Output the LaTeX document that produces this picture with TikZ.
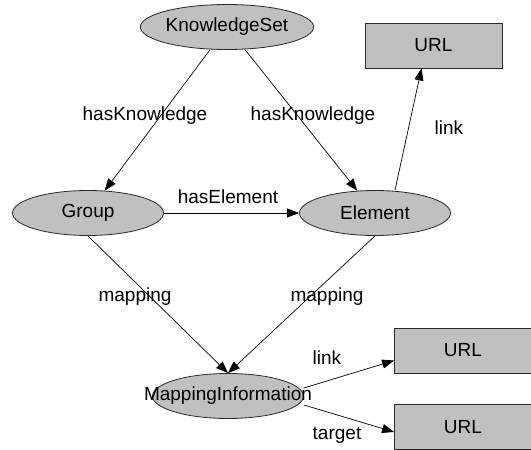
\documentclass[tikz,border=0pt]{standalone}
\usepackage{fontspec}
\setmainfont{Liberation Sans}
\usepackage{xcolor}
\usepackage{tikz}
\usetikzlibrary{arrows.meta,shapes.geometric}
\definecolor{kggray}{RGB}{192,192,192}
\definecolor{kgline}{RGB}{40,40,40}
\tikzset{
  kgclass/.style={ellipse, draw=kgline, fill=kggray, line width=0.8pt,
    minimum width=151pt, minimum height=45pt, inner sep=0pt,
    font=\fontsize{19}{22}\selectfont},
  kgurl/.style={rectangle, draw=kgline, fill=kggray, line width=0.8pt,
    minimum width=137pt, minimum height=45pt, inner sep=0pt,
    font=\fontsize{19}{22}\selectfont},
  kglabel/.style={inner sep=0pt, font=\fontsize{19}{22}\selectfont},
  kgarrow/.style={-{Triangle[length=12pt,width=9pt]}, line width=0.7pt, draw=black}
}
\begin{document}
\begin{tikzpicture}[x=1pt,y=-1pt]
  \useasboundingbox (0,0) rectangle (531,450);
  \clip (0,0) rectangle (531,450);
  \node[kgclass] (kSet) at (227,27) {KnowledgeSet};
  \node[kgclass] (kGroup) at (88,213) {Group};
  \node[kgclass] (kElem) at (375,213) {Element};
  \node[kgclass] (kMap) at (228,396) {\makebox[0pt]{MappingInformation}};
  \node[kgurl] (uElem) at (433.5,45.5) {URL};
  \node[kgurl] (uLink) at (463,350.5) {URL};
  \node[kgurl] (uTarget) at (463,427) {URL};
  \draw[kgarrow] (kSet) -- (kGroup);
  \draw[kgarrow] (kSet) -- (kElem);
  \draw[kgarrow] (kGroup) -- (kElem);
  \draw[kgarrow] ([xshift=20pt]kElem.north) -- ([xshift=-12pt]uElem.south);
  \draw[kgarrow] (kGroup.south) -- (kMap.north);
  \draw[kgarrow] (kElem.south) -- (kMap.north);
  \draw[kgarrow] ([yshift=8pt]kMap.east) -- ([yshift=-10pt]uLink.west);
  \draw[kgarrow] ([yshift=-9pt]kMap.east) -- ([yshift=-5pt]uTarget.west);
  \node[kglabel] (lKnowA) at (145,116) {hasKnowledge};
  \node[kglabel] (lKnowB) at (313,116) {hasKnowledge};
  \node[kglabel] (lHasElem) at (228,197) {hasElement};
  \node[kglabel] (lLinkA) at (449,128) {link};
  \node[kglabel] (lMapA) at (135,297) {mapping};
  \node[kglabel] (lMapB) at (327,297) {mapping};
  \node[kglabel] (lLinkB) at (327,358) {link};
  \node[kglabel] (lTarget) at (337,435) {target};
\end{tikzpicture}
\end{document}
